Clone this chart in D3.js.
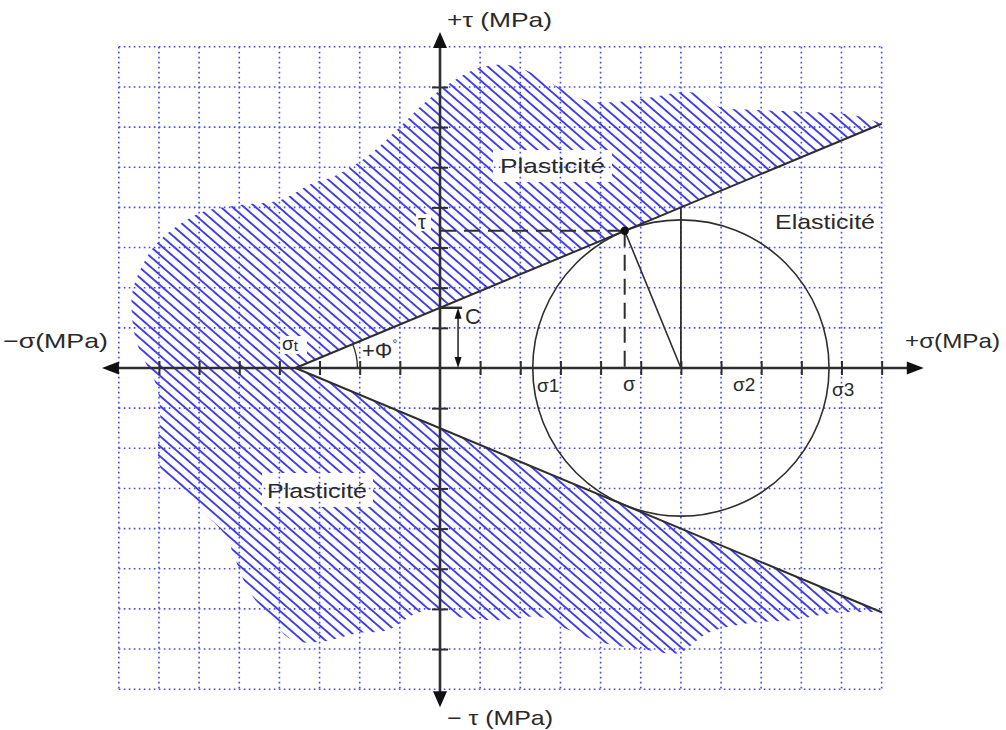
<!DOCTYPE html>
<html>
<head>
<meta charset="utf-8">
<script src="https://cdn.jsdelivr.net/npm/d3@7"></script>
<style>
  body { margin: 0; background: #fff; }
  svg { display: block; }
  text { font-family: "Liberation Sans", Arial, sans-serif; fill: #2a2a2a; }
</style>
</head>
<body>
<svg id="chart" width="1006" height="730"></svg>
<script>
// ---- Grid (MPa units) ----
const gridSigma = d3.range(-8, 12);            // vertical dotted lines
const gridTau = d3.range(-8, 9);               // horizontal dotted lines
const tickSigma = d3.range(-7, 12).filter(d => d !== 0);
const tickTau = d3.range(-7, 8).filter(d => d !== 0);

// ---- Mohr–Coulomb envelope ----
const tensileStrength = -3.6;   // σt, apex of the envelope
const cohesion = 1.5;           // C, intercept on the τ axis
const envelopeEnd = 11;         // σ where the envelope lines stop

// ---- Mohr circle ----
const circleCenter = 6.0;
const circleRadius = 3.69;
const tangentPoint = [4.6, 3.42];   // (σ, τ) on the envelope

// ---- Outline of the plastic (hatched) zone, from the upper envelope end
//      round the left side to the lower envelope end ----
const plasticBoundary = [
  [10.29, 6.30], [9.04, 6.38], [7.80, 6.43], [6.97, 6.50], [6.55, 6.80],
  [5.98, 6.87], [5.31, 6.75], [4.48, 6.63], [3.81, 6.63], [3.49, 6.72],
  [2.99, 6.97], [2.24, 7.37], [1.67, 7.55], [1.07, 7.50], [0.67, 7.35],
  [0.00, 6.92], [-0.50, 6.50], [-1.00, 6.00], [-1.82, 5.26], [-2.67, 4.76],
  [-3.16, 4.61], [-3.99, 4.18], [-4.98, 4.06], [-5.98, 3.86], [-6.97, 3.19],
  [-7.30, 2.76], [-7.65, 1.94], [-7.67, 1.27], [-7.55, 0.62], [-7.30, 0.07],
  [-7.05, -0.47], [-6.97, -1.05], [-6.97, -2.47], [-6.40, -3.11], [-5.31, -4.21],
  [-5.16, -4.61], [-4.73, -5.60], [-4.31, -6.10], [-3.69, -6.77], [-2.96, -6.82],
  [-2.04, -6.60], [-1.32, -6.53], [-0.57, -6.10], [0.00, -6.03], [0.45, -6.20],
  [1.49, -6.28], [2.49, -6.20], [3.04, -6.45], [4.08, -6.85], [5.13, -7.02],
  [5.95, -7.10], [6.67, -6.60], [7.72, -6.35], [8.77, -6.28], [9.79, -6.10]
];

// ---- Text ----
const axisTitles = { sigmaPos: "+σ(MPa)", sigmaNeg: "−σ(MPa)", tauPos: "+τ (MPa)", tauNeg: "− τ (MPa)" };
const zoneNames = { plastic: "Plasticité", elastic: "Elasticité" };

const svg = d3.select("#chart");
const x = d3.scaleLinear().domain([-8, 11]).range([118.8, 881.65]);
const y = d3.scaleLinear().domain([-8, 8]).range([689.2, 46.8]);
const x0 = x(0), y0 = y(0);
const envTau = s => cohesion * (s - tensileStrength) / (0 - tensileStrength);
const ink = "#2e2e2e";
const blue = "#4646ff";

// hatch pattern
const defs = svg.append("defs");
const pat = defs.append("pattern")
  .attr("id", "hatch").attr("patternUnits", "userSpaceOnUse")
  .attr("width", 40).attr("height", 7.6)
  .attr("patternTransform", "rotate(41)");
pat.append("line").attr("x1", 0).attr("x2", 40).attr("y1", 3.8).attr("y2", 3.8)
  .attr("stroke", "#3434ee").attr("stroke-width", 2).attr("stroke-opacity", 0.95);

// plastic zone
const curve = d3.line().x(d => x(d[0])).y(d => y(d[1])).curve(d3.curveCatmullRom.alpha(0.5));
const outline = [[envelopeEnd, envTau(envelopeEnd)], ...plasticBoundary, [envelopeEnd, -envTau(envelopeEnd)]];
const zonePath = `M${x(tensileStrength)},${y0}L` + curve(outline).slice(1) + "Z";
svg.append("path").attr("d", zonePath).attr("fill", "url(#hatch)");

// white boxes behind labels inside the hatching
const boxes = [[493, 150, 119, 32], [262, 473, 111, 34], [280, 336, 27, 18], [416, 214, 15, 17]];
svg.append("g").selectAll("rect").data(boxes).join("rect")
  .attr("x", d => d[0]).attr("y", d => d[1]).attr("width", d => d[2]).attr("height", d => d[3])
  .attr("fill", "#fff");

// dotted grid
const grid = svg.append("g").attr("stroke", blue).attr("stroke-width", 1.6)
  .attr("stroke-dasharray", "1.6,3.4").attr("fill", "none");
grid.selectAll(".v").data(gridSigma.filter(d => d !== 0)).join("line")
  .attr("x1", d => x(d)).attr("x2", d => x(d)).attr("y1", y(8)).attr("y2", y(-8));
grid.selectAll(".h").data(gridTau.filter(d => d !== 0)).join("line")
  .attr("y1", d => y(d)).attr("y2", d => y(d)).attr("x1", x(-8)).attr("x2", x(11));

// axes with ticks
const xAxis = svg.append("g").attr("transform", `translate(0,${y0})`)
  .call(d3.axisBottom(x).tickValues(tickSigma).tickSize(7).tickFormat(""));
xAxis.select(".domain").remove();
xAxis.selectAll(".tick line").attr("y1", -7).attr("y2", 7).attr("stroke", ink).attr("stroke-width", 2);
const yAxis = svg.append("g").attr("transform", `translate(${x0},0)`)
  .call(d3.axisLeft(y).tickValues(tickTau).tickSize(8).tickFormat(""));
yAxis.select(".domain").remove();
yAxis.selectAll(".tick line").attr("x1", -8).attr("x2", 8).attr("stroke", ink).attr("stroke-width", 2);

const axes = svg.append("g").attr("stroke", ink).attr("stroke-width", 2.6);
axes.append("line").attr("x1", x(-8.3)).attr("x2", x(11.9)).attr("y1", y0).attr("y2", y0);
axes.append("line").attr("y1", y(8.2)).attr("y2", y(-8.3)).attr("x1", x0).attr("x2", x0);
const heads = [
  [[x(-8.42), y0], [x(-8.42) + 17, y0 - 6.5], [x(-8.42) + 17, y0 + 6.5]],
  [[x(12.05), y0], [x(12.05) - 17, y0 - 6.5], [x(12.05) - 17, y0 + 6.5]],
  [[x0, y(8.37)], [x0 - 7, y(8.37) + 16], [x0 + 7, y(8.37) + 16]],
  [[x0, y(-8.45)], [x0 - 7, y(-8.45) - 16], [x0 + 7, y(-8.45) - 16]]
];
svg.append("g").selectAll("path").data(heads).join("path")
  .attr("d", d => "M" + d.join("L") + "Z").attr("fill", "#111");

// envelope lines
const env = svg.append("g").attr("stroke", ink).attr("stroke-width", 2).attr("fill", "none");
env.append("line").attr("x1", x(tensileStrength)).attr("y1", y0)
  .attr("x2", x(envelopeEnd)).attr("y2", y(envTau(envelopeEnd)));
env.append("line").attr("x1", x(tensileStrength)).attr("y1", y0)
  .attr("x2", x(envelopeEnd)).attr("y2", y(-envTau(envelopeEnd)));

// Mohr circle and construction lines
const unit = x(1) - x(0);
const mc = svg.append("g").attr("stroke", ink).attr("fill", "none");
mc.append("circle").attr("cx", x(circleCenter)).attr("cy", y0).attr("r", circleRadius * unit)
  .attr("stroke-width", 1.6);
mc.append("line").attr("x1", x(tangentPoint[0])).attr("y1", y(tangentPoint[1]))
  .attr("x2", x(circleCenter)).attr("y2", y0).attr("stroke-width", 1.6);
mc.append("line").attr("x1", x(circleCenter)).attr("x2", x(circleCenter))
  .attr("y1", y(envTau(circleCenter))).attr("y2", y0).attr("stroke-width", 1.8);
mc.append("line").attr("x1", x0).attr("x2", x(tangentPoint[0]))
  .attr("y1", y(tangentPoint[1])).attr("y2", y(tangentPoint[1]))
  .attr("stroke-width", 2).attr("stroke-dasharray", "16,8");
mc.append("line").attr("x1", x(tangentPoint[0])).attr("x2", x(tangentPoint[0]))
  .attr("y1", y(tangentPoint[1])).attr("y2", y0)
  .attr("stroke-width", 2).attr("stroke-dasharray", "16,8");
svg.append("circle").attr("cx", x(tangentPoint[0])).attr("cy", y(tangentPoint[1])).attr("r", 4.2)
  .attr("fill", "#111");

// cohesion marker: short line at C and double arrow down to the σ axis
const cx = x(0.45);
svg.append("line").attr("x1", x0).attr("x2", x(0.55)).attr("y1", y(cohesion)).attr("y2", y(cohesion))
  .attr("stroke", ink).attr("stroke-width", 2.4);
svg.append("line").attr("x1", cx).attr("x2", cx).attr("y1", y(cohesion) + 4).attr("y2", y0 - 4)
  .attr("stroke", ink).attr("stroke-width", 1.6);
svg.append("g").selectAll("path").data([
  [[cx, y(cohesion)], [cx - 3.5, y(cohesion) + 11], [cx + 3.5, y(cohesion) + 11]],
  [[cx, y0], [cx - 3.5, y0 - 11], [cx + 3.5, y0 - 11]]
]).join("path").attr("d", d => "M" + d.join("L") + "Z").attr("fill", "#111");

// friction angle arc
const phi = Math.atan(cohesion / (0 - tensileStrength));
const ar = 62, ax = x(tensileStrength);
svg.append("path")
  .attr("d", `M${ax + ar},${y0}A${ar},${ar} 0 0 0 ${ax + ar * Math.cos(phi)},${y0 - ar * Math.sin(phi)}`)
  .attr("fill", "none").attr("stroke", ink).attr("stroke-width", 1.3);

// labels
function label(txt, px, py, size, len) {
  const t = svg.append("text").attr("x", px).attr("y", py).attr("font-size", size).text(txt);
  if (len) t.attr("textLength", len).attr("lengthAdjust", "spacingAndGlyphs");
  return t;
}
label(axisTitles.tauPos, 447, 27, 21, 105);
label(axisTitles.tauNeg, 447, 725, 21, 106);
label(axisTitles.sigmaNeg, 3, 348, 21, 105);
label(axisTitles.sigmaPos, 905, 348, 21, 95);
label(zoneNames.plastic, 500, 173, 21, 105);
label(zoneNames.plastic, 267, 498, 21, 100);
label(zoneNames.elastic, 775, 229, 21, 100);

// symbols
const sT = svg.append("text").attr("x", 282).attr("y", 350).attr("font-size", 19).text("σ");
sT.append("tspan").attr("font-size", 15).attr("dy", 1).text("t");
label("C", 465, 324, 22);
label("τ", 418, 229, 20);
const phiT = svg.append("text").attr("x", 362).attr("y", 358).attr("font-size", 22).text("+Φ");
phiT.append("tspan").attr("font-size", 12).attr("dy", -10).text("°");
label("σ1", 537, 392, 19);
label("σ", 623, 391, 20);
label("σ2", 733, 391, 19);
label("σ3", 832, 396, 19);
</script>
</body>
</html>
